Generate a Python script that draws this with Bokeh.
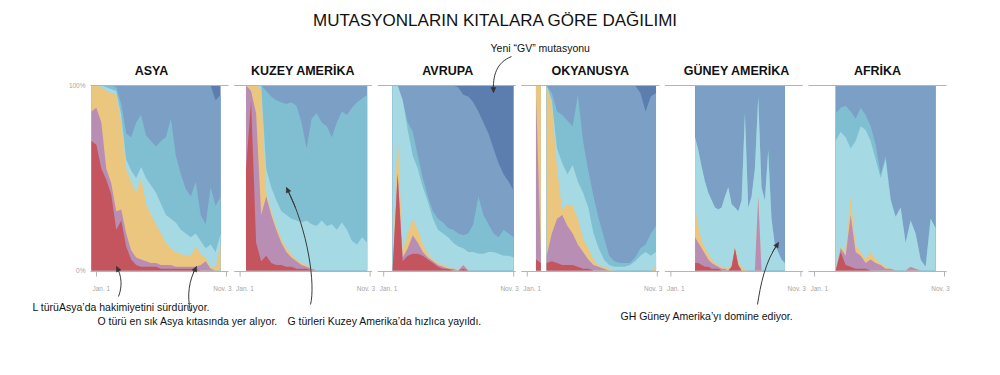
import numpy as np
from bokeh.plotting import figure
from bokeh.models import Range1d, Arrow, NormalHead
from bokeh.core.properties import value
from bokeh.embed import file_html
from bokeh.resources import INLINE

# ---------------- data ----------------
TITLE = "MUTASYONLARIN KITALARA GÖRE DAĞILIMI"
CLADES = ["L", "S", "O", "G", "GR", "GH", "GV"]
COLORS = ["#c4555f", "#b98eb4", "#ebc67f", "#a5d9e4", "#80bfd2", "#7b9fc5", "#5b7eae"]
CONTINENTS = ["ASYA", "KUZEY AMERİKA", "AVRUPA", "OKYANUSYA", "GÜNEY AMERİKA", "AFRİKA"]
X_TICK_DAYS = [0, 307]
X_TICK_LABELS = ["Jan. 1", "Nov. 3"]
Y_TICK_LABELS = ["100%", "0%"]

# sampled periods (start day, end day, number of samples); day 0 = Jan. 1
ASYA_SPANS = [(-12, 293, 27)]
KUZEY_SPANS = [(14, 300, 25)]
AVRUPA_SPANS = [(21, 307, 25)]
OKYANUSYA_SPANS = [(20.5, 32, 2), (45.6, 304, 22)]
GUNEY_SPANS = [(57, 269, 28)]
AFRIKA_SPANS = [(50, 286, 21)]

# clade shares (%)
ASYA_L = [70, 68, 55, 49, 41, 22, 27, 13, 6, 3, 2, 2, 2, 2, 1, 1, 1, 1, 1, 1, 1, 1, 0, 0, 0, 0, 0]
ASYA_S = [16, 20, 25, 6, 6, 10, 6, 7, 5, 4, 4, 3, 2, 2, 2, 2, 2, 1, 1, 1, 1, 1, 3, 5, 1, 0, 0]
ASYA_O = [14, 12, 19, 42, 49, 63, 47, 35, 37, 35, 44, 31, 26, 21, 17, 12, 9, 8, 7, 6, 6, 11, 6, 2, 1, 2, 14]
ASYA_G = [0, 0, 1, 2, 2, 2, 4, 5, 6, 8, 6, 14, 16, 17, 16, 15, 16, 16, 13, 12, 10, 7, 7, 5, 12, 8, 6]
ASYA_GR = [0, 0, 0, 1, 2, 2, 6, 14, 18, 30, 28, 23, 24, 25, 34, 42, 54, 36, 30, 24, 22, 28, 14, 13, 31, 25, 20]
ASYA_GH = [0, 0, 0, 0, 0, 1, 10, 26, 28, 20, 16, 27, 30, 33, 30, 28, 18, 38, 48, 56, 60, 52, 70, 75, 55, 57, 55]
ASYA_GV = [0, 0, 0, 0, 0, 0, 0, 0, 0, 0, 0, 0, 0, 0, 0, 0, 0, 0, 0, 0, 0, 0, 0, 0, 0, 8, 5]

KUZEY_L = [55, 92, 15, 5, 8, 4, 3, 3, 2, 2, 1, 1, 1, 0, 0, 0, 0, 0, 0, 0, 0, 0, 0, 0, 0]
KUZEY_S = [45, 5, 70, 25, 32, 26, 19, 12, 8, 5, 4, 2, 1, 1, 0, 0, 0, 0, 0, 0, 0, 0, 0, 0, 0]
KUZEY_O = [0, 3, 15, 68, 2, 2, 2, 2, 2, 2, 1, 1, 1, 0, 0, 0, 0, 0, 0, 0, 0, 0, 0, 0, 0]
KUZEY_G = [0, 0, 0, 2, 13, 13, 14, 15, 18, 19, 21, 22, 24, 24, 24, 27, 24, 25, 22, 26, 22, 16, 14, 18, 15]
KUZEY_GR = [0, 0, 0, 0, 42, 49, 54, 59, 60, 63, 62, 54, 39, 57, 61, 53, 54, 47, 58, 60, 62, 72, 77, 75, 80]
KUZEY_GH = [0, 0, 0, 0, 3, 6, 8, 9, 10, 9, 11, 20, 34, 18, 15, 20, 22, 28, 20, 14, 16, 12, 9, 7, 5]
KUZEY_GV = [0, 0, 0, 0, 0, 0, 0, 0, 0, 0, 0, 0, 0, 0, 0, 0, 0, 0, 0, 0, 0, 0, 0, 0, 0]

AVRUPA_L = [0, 52, 5, 8, 9, 9, 8, 6, 4, 2, 1, 1, 0, 0, 1, 0, 0, 0, 0, 0, 0, 0, 0, 0, 0]
AVRUPA_S = [0, 1, 2, 4, 10, 6, 2, 1, 1, 1, 1, 0, 1, 0, 2, 0, 0, 0, 0, 0, 0, 0, 0, 0, 0]
AVRUPA_O = [0, 22, 3, 8, 9, 7, 4, 2, 1, 1, 1, 1, 0, 1, 0, 0, 0, 0, 0, 0, 0, 0, 0, 0, 0]
AVRUPA_G = [100, 25, 82, 56, 34, 33, 31, 28, 22, 18, 17, 16, 14, 12, 9, 10, 10, 9, 9, 10, 10, 9, 8, 8, 7]
AVRUPA_GR = [0, 0, 0, 4, 13, 7, 5, 3, 4, 6, 6, 5, 7, 7, 7, 10, 15, 31, 21, 15, 10, 9, 14, 12, 11]
AVRUPA_GH = [0, 0, 8, 20, 25, 38, 50, 60, 68, 72, 74, 77, 78, 79, 76, 74, 66, 46, 50, 49, 46, 40, 30, 28, 25]
AVRUPA_GV = [0, 0, 0, 0, 0, 0, 0, 0, 0, 0, 0, 0, 0, 1, 5, 6, 9, 14, 20, 26, 34, 42, 48, 52, 57]

# None marks the period without data
OKYANUSYA_L = [6, 4, None, 4, 5, 4, 3, 3, 3, 2, 1, 1, 0, 0, 0, 0, 0, 0, 0, 0, 0, 0, 0, 0, 0]
OKYANUSYA_S = [89, 6, None, 4, 15, 24, 27, 21, 17, 12, 9, 5, 3, 2, 1, 0, 0, 0, 0, 0, 0, 0, 0, 0, 0]
OKYANUSYA_O = [5, 90, None, 92, 70, 27, 3, 12, 15, 14, 7, 6, 3, 1, 1, 1, 0, 0, 0, 0, 0, 0, 0, 0, 2]
OKYANUSYA_G = [0, 0, None, 0, 2, 11, 25, 16, 22, 20, 25, 22, 14, 9, 4, 2, 2, 2, 2, 3, 5, 8, 10, 8, 8]
OKYANUSYA_GR = [0, 0, None, 0, 4, 20, 26, 29, 21, 47, 28, 20, 20, 16, 12, 5, 3, 2, 2, 1, 2, 4, 4, 12, 14]
OKYANUSYA_GH = [0, 0, None, 0, 4, 14, 16, 19, 22, 5, 30, 46, 60, 72, 82, 92, 95, 96, 96, 96, 93, 84, 72, 74, 72]
OKYANUSYA_GV = [0, 0, None, 0, 0, 0, 0, 0, 0, 0, 0, 0, 0, 0, 0, 0, 0, 0, 0, 0, 0, 4, 14, 6, 4]

GUNEY_L = [4, 4, 3, 2, 2, 1, 1, 1, 0, 0, 0, 2, 12, 3, 0, 0, 0, 0, 0, 0, 0, 0, 0, 0, 0, 0, 0, 0]
GUNEY_S = [14, 11, 9, 7, 4, 3, 2, 1, 1, 1, 0, 0, 0, 0, 0, 0, 0, 0, 0, 40, 0, 0, 0, 0, 0, 0, 0, 0]
GUNEY_O = [16, 9, 4, 3, 3, 2, 1, 1, 1, 1, 1, 1, 1, 2, 2, 1, 0, 0, 0, 0, 0, 0, 0, 0, 0, 0, 0, 0]
GUNEY_G = [38, 41, 40, 36, 33, 32, 30, 30, 32, 38, 44, 33, 21, 27, 36, 84, 34, 40, 55, 54, 45, 38, 65, 28, 14, 10, 6, 4]
GUNEY_GR = [0, 0, 0, 0, 0, 0, 0, 0, 0, 0, 0, 0, 0, 0, 0, 0, 0, 0, 0, 0, 0, 0, 0, 0, 0, 0, 0, 0]
GUNEY_GH = [28, 35, 44, 52, 58, 62, 66, 67, 66, 60, 55, 64, 66, 68, 62, 15, 66, 60, 45, 6, 55, 62, 35, 72, 86, 90, 94, 96]
GUNEY_GV = [0, 0, 0, 0, 0, 0, 0, 0, 0, 0, 0, 0, 0, 0, 0, 0, 0, 0, 0, 0, 0, 0, 0, 0, 0, 0, 0, 0]

AFRIKA_L = [0, 10, 3, 2, 1, 1, 1, 0, 0, 0, 0, 0, 0, 0, 0, 0, 0, 0, 0, 0, 0]
AFRIKA_S = [0, 2, 5, 28, 9, 7, 3, 6, 4, 3, 1, 1, 0, 0, 0, 2, 1, 0, 0, 0, 0]
AFRIKA_O = [1, 1, 2, 10, 4, 2, 2, 4, 2, 1, 1, 0, 0, 0, 0, 0, 0, 0, 0, 0, 0]
AFRIKA_G = [69, 62, 62, 26, 56, 68, 70, 60, 54, 46, 58, 37, 29, 34, 15, 25, 19, 6, 2, 28, 23]
AFRIKA_GR = [15, 13, 17, 20, 12, 10, 8, 8, 8, 2, 2, 1, 0, 0, 0, 0, 0, 0, 0, 0, 0]
AFRIKA_GH = [15, 12, 11, 14, 18, 12, 16, 22, 32, 48, 38, 61, 71, 66, 85, 73, 80, 94, 98, 72, 77]
AFRIKA_GV = [0, 0, 0, 0, 0, 0, 0, 0, 0, 0, 0, 0, 0, 0, 0, 0, 0, 0, 0, 0, 0]

ANNOTATIONS = [
    "L türüAsya\u2019da hakimiyetini sürdürüyor.",
    "O türü en sık Asya kıtasında yer alıyor.",
    "G türleri Kuzey Amerika\u2019da hızlıca yayıldı.",
    "GH Güney Amerika\u2019yı domine ediyor.",
    "Yeni \u201cGV\u201d mutasyonu",
]

PANELS = [
    (ASYA_SPANS, [ASYA_L, ASYA_S, ASYA_O, ASYA_G, ASYA_GR, ASYA_GH, ASYA_GV]),
    (KUZEY_SPANS, [KUZEY_L, KUZEY_S, KUZEY_O, KUZEY_G, KUZEY_GR, KUZEY_GH, KUZEY_GV]),
    (AVRUPA_SPANS, [AVRUPA_L, AVRUPA_S, AVRUPA_O, AVRUPA_G, AVRUPA_GR, AVRUPA_GH, AVRUPA_GV]),
    (OKYANUSYA_SPANS, [OKYANUSYA_L, OKYANUSYA_S, OKYANUSYA_O, OKYANUSYA_G, OKYANUSYA_GR, OKYANUSYA_GH, OKYANUSYA_GV]),
    (GUNEY_SPANS, [GUNEY_L, GUNEY_S, GUNEY_O, GUNEY_G, GUNEY_GR, GUNEY_GH, GUNEY_GV]),
    (AFRIKA_SPANS, [AFRIKA_L, AFRIKA_S, AFRIKA_O, AFRIKA_G, AFRIKA_GR, AFRIKA_GH, AFRIKA_GV]),
]

# ---------------- layout ----------------
W, H = 984, 359
M = 0                        # reference px -> canvas px offset
PANEL_LEFT = [90 + 143.6 * i - M for i in range(6)]
PANEL_W = 138
DAY0_DX = 6
PX_PER_DAY = 130 / 307
Y_TOP = 85 - M               # 100 %
Y_BOT = 270 - M              # 0 %
TITLE_DX = [-8, 0, 1, 0, 3, 0]
FONT = value("Liberation Sans")
GRAY = "#a6a6a6"

p = figure(width=W, height=H, x_range=Range1d(0, W), y_range=Range1d(H, 0),
           toolbar_location=None, output_backend="svg", min_border=0,
           x_axis_location=None, y_axis_location=None, outline_line_color=None)
p.grid.visible = False
p.background_fill_color = "white"

span_px = Y_BOT - Y_TOP
p.extra_y_ranges = {"share": Range1d(-(H - Y_BOT) / span_px, Y_BOT / span_px)}
px_share = 1.0 / span_px

xr = {}
for i, L in enumerate(PANEL_LEFT):
    x0 = L + DAY0_DX
    s = -x0 / PX_PER_DAY
    xr[f"p{i}"] = Range1d(s, s + W / PX_PER_DAY)
p.extra_x_ranges = xr


def span_days(spans):
    out = []
    for j, (a, b, n) in enumerate(spans):
        if j:
            out.append(None)
        out.extend(np.linspace(a, b, n).tolist())
    return out


for i, (spans, series) in enumerate(PANELS):
    rn = f"p{i}"
    days = span_days(spans)
    segs, cur = [], []
    for k, d in enumerate(days):
        if d is None:
            segs.append(cur)
            cur = []
        else:
            cur.append(k)
    segs.append(cur)
    for idx in segs:
        x = np.array([days[k] for k in idx], dtype=float)
        vals = np.array([[ser[k] for k in idx] for ser in series], dtype=float)
        shares = vals / vals.sum(axis=0)
        cum = np.cumsum(shares, axis=0)
        cum[-1] = 1.0
        for c in reversed(range(len(CLADES))):
            p.varea(x=x, y1=np.zeros_like(x), y2=cum[c], fill_color=COLORS[c],
                    x_range_name=rn, y_range_name="share")

    d_left = -DAY0_DX / PX_PER_DAY
    d_right = (PANEL_W - DAY0_DX) / PX_PER_DAY
    p.segment(x0=[d_left, d_left], y0=[1.0, -px_share], x1=[d_right, d_right], y1=[1.0, -px_share],
              line_color="#b4b4b4", line_width=1, x_range_name=rn, y_range_name="share")
    p.segment(x0=X_TICK_DAYS, y0=[-px_share] * 2, x1=X_TICK_DAYS, y1=[-6 * px_share] * 2,
              line_color="#b4b4b4", line_width=1, x_range_name=rn, y_range_name="share")
    p.text(x=[X_TICK_DAYS[0]], y=[-18 * px_share], text=[X_TICK_LABELS[0]], text_font=FONT,
           text_font_size="6.5px", text_color=GRAY, text_align="left", text_baseline="middle",
           x_offset=-4, x_range_name=rn, y_range_name="share")
    p.text(x=[X_TICK_DAYS[1]], y=[-18 * px_share], text=[X_TICK_LABELS[1]], text_font=FONT,
           text_font_size="6.5px", text_color=GRAY, text_align="right", text_baseline="middle",
           x_offset=5, x_range_name=rn, y_range_name="share")

    p.text(x=[PANEL_LEFT[i] + PANEL_W / 2 + TITLE_DX[i]], y=[70 - M], text=[CONTINENTS[i]],
           text_font=FONT, text_font_style="bold", text_font_size="12.5px", text_color="#111111",
           text_align="center", text_baseline="middle")

p.text(x=[PANEL_LEFT[0] - 5, PANEL_LEFT[0] - 5], y=[1.0, 0.0], text=Y_TICK_LABELS, text_font=FONT,
       text_font_size="6.5px", text_color=GRAY, text_align="right", text_baseline="middle",
       y_range_name="share")

p.text(x=[495 - M], y=[20 - M], text=[TITLE], text_font=FONT, text_font_size="17px",
       text_color="#111111", text_align="center", text_baseline="middle")

ANN_POS = [(32, 306), (97, 320), (287, 320), (620, 315), (490, 47)]
p.text(x=[a - M for a, b in ANN_POS], y=[b - M for a, b in ANN_POS], text=ANNOTATIONS,
       text_font=FONT, text_font_size="10.5px", text_color="#111111", text_align="left",
       text_baseline="middle")

CURVES = [
    ((118, 296), (122, 286), (121.3, 275.3), (116, 266)),
    ((190, 311), (186.3, 295), (188.3, 280), (196, 266)),
    ((310, 304), (315, 285), (308, 230), (286, 187)),
    ((511, 56), (496, 62), (492, 75), (493, 92)),
    ((757, 304), (760, 285), (764, 262), (778, 242)),
]
for (a, c0, c1, b) in CURVES:
    P = [np.array(v, float) - M for v in (a, c0, c1, b)]
    p.bezier(x0=[P[0][0]], y0=[P[0][1]], x1=[P[3][0]], y1=[P[3][1]],
             cx0=[P[1][0]], cy0=[P[1][1]], cx1=[P[2][0]], cy1=[P[2][1]],
             line_color="#3a3a3a", line_width=1)
    t = 0.85
    q = ((1 - t) ** 3) * P[0] + 3 * ((1 - t) ** 2) * t * P[1] + 3 * (1 - t) * t * t * P[2] + t ** 3 * P[3]
    p.add_layout(Arrow(end=NormalHead(size=5, fill_color="#333333", line_color="#333333", line_width=0.5),
                       x_start=q[0], y_start=q[1], x_end=P[3][0], y_end=P[3][1],
                       line_color="#3a3a3a", line_width=1))

open("out.html", "w").write(file_html(p, INLINE))
